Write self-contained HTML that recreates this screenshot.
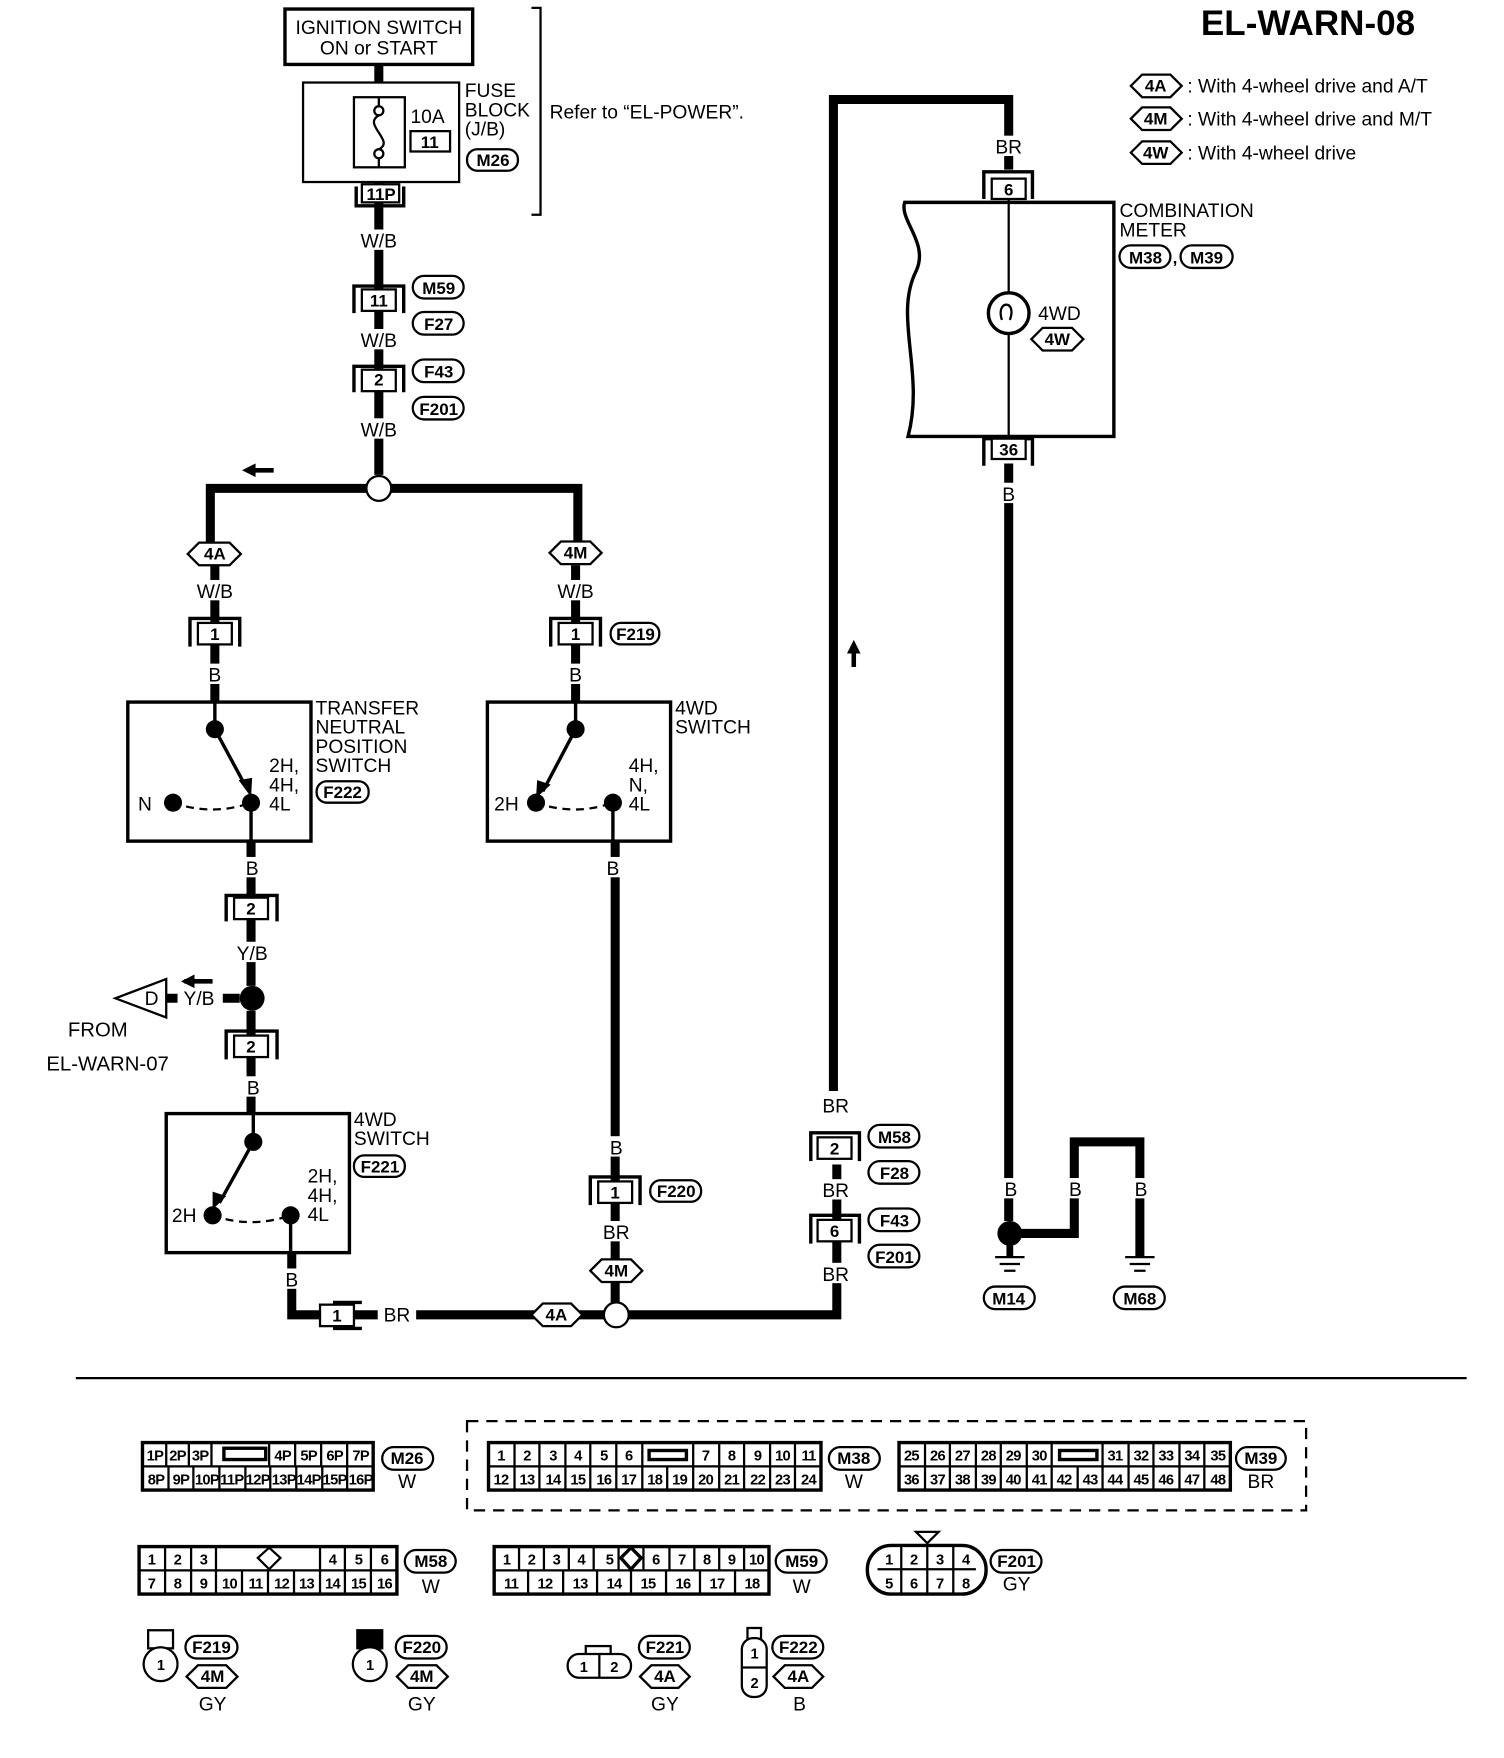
<!DOCTYPE html>
<html><head><meta charset="utf-8"><style>
html,body{margin:0;padding:0;background:#fff;}
svg{display:block;}
text{font-family:"Liberation Sans",Arial,sans-serif;fill:#000;}
.l{font-size:17px;}
.s{font-size:15px;font-weight:bold;}
.c{font-size:13px;letter-spacing:-0.6px;font-weight:bold;}
</style></head><body>
<svg width="1504" height="1758" viewBox="0 0 1330 1555" preserveAspectRatio="none" xmlns="http://www.w3.org/2000/svg">
<rect x="0" y="0" width="1330" height="1555" fill="#fff"/>
<g stroke="#000" fill="none" stroke-linecap="butt">
<path d="M335 57 V73" stroke-width="8"/>
<path d="M335 161 V420" stroke-width="8"/>
<path d="M186 490 V432 H324 M346 432 H511 V480" stroke-width="8"/>
<path d="M190 500 V620" stroke-width="8"/>
<path d="M509 500 V620" stroke-width="8"/>
<path d="M222 744 V872" stroke-width="8"/>
<path d="M222 894 V985" stroke-width="8"/>
<path d="M258 1108 V1163 H534 M556 1163 H740 V1030" stroke-width="8"/>
<path d="M544 744 V1152" stroke-width="8"/>
<path d="M737 965 V88 H892 V150" stroke-width="8"/>
<path d="M892 410 V1080" stroke-width="8"/>
<path d="M900 1091 H950 V1010 H1008 V1112" stroke-width="8"/>
<path d="M893 1100 V1112" stroke-width="6"/>
<path d="M147 883 H212" stroke-width="8"/>
</g>
<g fill="#fff">
<rect x="315" y="203" width="40" height="18"/><rect x="315" y="291" width="40" height="18"/><rect x="315" y="370" width="40" height="18"/>
<rect x="170" y="513" width="40" height="18"/><rect x="489" y="513" width="40" height="18"/>
<rect x="180" y="587" width="20" height="18"/><rect x="499" y="587" width="20" height="18"/>
<rect x="212" y="758" width="22" height="18"/><rect x="534" y="758" width="22" height="18"/>
<rect x="205" y="833" width="36" height="18"/><rect x="212" y="952" width="22" height="18"/>
<rect x="157" y="873" width="40" height="20"/>
<rect x="248" y="1122" width="22" height="18"/><rect x="334" y="1153" width="34" height="20"/>
<rect x="534" y="1005" width="22" height="18"/><rect x="527" y="1080" width="36" height="18"/>
<rect x="722" y="968" width="34" height="18"/><rect x="722" y="1043" width="34" height="18"/><rect x="722" y="1117" width="34" height="18"/>
<rect x="876" y="120" width="34" height="18"/><rect x="880" y="427" width="24" height="18"/>
<rect x="880" y="1042" width="24" height="18"/><rect x="938" y="1042" width="24" height="18"/><rect x="996" y="1042" width="24" height="18"/>
</g>
<g stroke="#000" fill="none">
<rect x="252" y="8" width="166" height="49" stroke-width="3"/>
<rect x="268" y="73" width="138" height="88" stroke-width="2"/>
<rect x="313" y="86" width="45" height="62" stroke-width="2"/>
<path d="M335 86 V95 M335 139 V148" stroke-width="2"/>
<circle cx="335" cy="98" r="4" stroke-width="2"/><circle cx="335" cy="136" r="4" stroke-width="2"/>
<path d="M335 102 C320 110 350 125 335 132" stroke-width="2"/>
<rect x="363" y="116" width="35" height="18" stroke-width="2"/>
<rect x="413" y="132" width="45" height="19" rx="9" stroke-width="2"/>
<path d="M315 165 V182 H357 V165" stroke-width="3"/><rect x="320" y="163" width="33" height="16" fill="#fff" stroke-width="2"/>
<path d="M470 7 H478 V190 H470" stroke-width="2"/>
<path d="M313 277 V253 H357 V277" stroke-width="3"/><rect x="320" y="256" width="30" height="19" fill="#fff" stroke-width="2"/>
<path d="M313 347 V324 H357 V347" stroke-width="3"/><rect x="320" y="327" width="30" height="19" fill="#fff" stroke-width="2"/>
<path d="M168 572 V547 H212 V572" stroke-width="3"/><rect x="175" y="551" width="30" height="19" fill="#fff" stroke-width="2"/>
<path d="M487 572 V547 H531 V572" stroke-width="3"/><rect x="494" y="551" width="30" height="19" fill="#fff" stroke-width="2"/>
<path d="M200 815 V792 H245 V815" stroke-width="3"/><rect x="207" y="794" width="30" height="19" fill="#fff" stroke-width="2"/>
<path d="M200 937 V912 H245 V937" stroke-width="3"/><rect x="207" y="916" width="30" height="19" fill="#fff" stroke-width="2"/>
<path d="M522 1066 V1041 H566 V1066" stroke-width="3"/><rect x="529" y="1045" width="30" height="19" fill="#fff" stroke-width="2"/>
<path d="M717 1027 V1002 H760 V1027" stroke-width="3"/><rect x="723" y="1006" width="30" height="19" fill="#fff" stroke-width="2"/>
<path d="M717 1100 V1075 H760 V1100" stroke-width="3"/><rect x="723" y="1079" width="30" height="19" fill="#fff" stroke-width="2"/>
<path d="M870 176 V152 H913 V176" stroke-width="3"/><rect x="877" y="158" width="30" height="18" fill="#fff" stroke-width="2"/>
<path d="M870 412 V388 H913 V412" stroke-width="3"/><rect x="877" y="388" width="30" height="18" fill="#fff" stroke-width="2"/>
<path d="M320 1152 H296 V1175 H320" stroke-width="3"/><rect x="283" y="1154" width="30" height="19" fill="#fff" stroke-width="2"/>
<rect x="365" y="244" width="45" height="20" rx="10" stroke-width="2"/>
<rect x="365" y="276" width="45" height="20" rx="10" stroke-width="2"/>
<rect x="365" y="318" width="45" height="20" rx="10" stroke-width="2"/>
<rect x="365" y="351" width="45" height="20" rx="10" stroke-width="2"/>
<rect x="540" y="551" width="43" height="19" rx="9" stroke-width="2"/>
<rect x="280" y="691" width="46" height="19" rx="9" stroke-width="2"/>
<rect x="313" y="1022" width="45" height="19" rx="9" stroke-width="2"/>
<rect x="575" y="1044" width="45" height="19" rx="9" stroke-width="2"/>
<rect x="768" y="995" width="45" height="20" rx="10" stroke-width="2"/>
<rect x="768" y="1027" width="45" height="20" rx="10" stroke-width="2"/>
<rect x="768" y="1069" width="45" height="20" rx="10" stroke-width="2"/>
<rect x="768" y="1101" width="45" height="20" rx="10" stroke-width="2"/>
<rect x="990" y="217" width="45" height="20" rx="10" stroke-width="2"/>
<rect x="1044" y="217" width="46" height="20" rx="10" stroke-width="2"/>
<rect x="870" y="1138" width="45" height="20" rx="10" stroke-width="2"/>
<rect x="985" y="1138" width="45" height="20" rx="10" stroke-width="2"/>
<polygon points="166,490 176,480 203,480 213,490 203,500 176,500" fill="#fff" stroke-width="2"/>
<polygon points="486,489 496,479 522,479 532,489 522,499 496,499" fill="#fff" stroke-width="2"/>
<polygon points="522,1124 532,1114 558,1114 568,1124 558,1134 532,1134" fill="#fff" stroke-width="2"/>
<polygon points="470,1163 480,1153 505,1153 515,1163 505,1173 480,1173" fill="#fff" stroke-width="2"/>
<polygon points="912,300 922,290 948,290 958,300 948,310 922,310" fill="#fff" stroke-width="2"/>
<polygon points="1000,76 1010,66 1035,66 1045,76 1035,86 1010,86" stroke-width="2"/>
<polygon points="1000,105 1010,95 1035,95 1045,105 1035,115 1010,115" stroke-width="2"/>
<polygon points="1000,135 1010,125 1035,125 1045,135 1035,145 1010,145" stroke-width="2"/>
<circle cx="335" cy="432" r="11" fill="#fff" stroke-width="2"/>
<circle cx="545" cy="1163" r="11" fill="#fff" stroke-width="2"/>
<rect x="113" y="621" width="162" height="123" stroke-width="3"/>
<rect x="431" y="621" width="162" height="123" stroke-width="3"/>
<rect x="147" y="985" width="162" height="123" stroke-width="3"/>
<path d="M190 621 V645 M222 710 V744" stroke-width="3"/>
<path d="M509 621 V645 M542 710 V744" stroke-width="3"/>
<path d="M224 985 V1010 M257 1075 V1108" stroke-width="3"/>
<path d="M190 645 L218 697" stroke-width="3"/>
<path d="M509 645 L480 700" stroke-width="3"/>
<path d="M224 1010 L194 1064" stroke-width="3"/>
<path d="M153 710 Q188 722 222 710" stroke-width="2" stroke-dasharray="7,5"/>
<path d="M474 710 Q508 722 542 710" stroke-width="2" stroke-dasharray="7,5"/>
<path d="M188 1075 Q222 1087 257 1075" stroke-width="2" stroke-dasharray="7,5"/>
<path d="M800 179 H985 V386 H803 C818 330 790 280 810 240 C822 215 795 195 800 179 Z" stroke-width="3"/>
<path d="M892 176 V388" stroke-width="2"/>
<circle cx="892" cy="277" r="18" fill="#fff" stroke-width="3"/>
<path d="M886 283 C880 265 900 265 893 283" stroke-width="2"/>
<path d="M880 1112 H906 M884 1118 H902 M888 1124 H898" stroke-width="2"/>
<path d="M995 1112 H1021 M999 1118 H1017 M1003 1124 H1013" stroke-width="2"/>
<polygon points="102,883 147,866 147,900" fill="#fff" stroke-width="2"/>
<path d="M67 1219 H1297" stroke-width="2"/>
<rect x="413" y="1257" width="742" height="79" stroke-width="2" stroke-dasharray="10,7"/>
</g>
<g fill="#000">
<circle cx="190" cy="645" r="8"/><circle cx="222" cy="710" r="8"/><circle cx="153" cy="710" r="8"/>
<circle cx="509" cy="645" r="8"/><circle cx="474" cy="710" r="8"/><circle cx="542" cy="710" r="8"/>
<circle cx="224" cy="1010" r="8"/><circle cx="188" cy="1075" r="8"/><circle cx="257" cy="1075" r="8"/>
<circle cx="223" cy="883" r="11"/><circle cx="893" cy="1091" r="11"/>
<polygon points="222,705 211,690 223,688"/><polygon points="474,706 475,690 487,694"/><polygon points="188,1070 188,1054 200,1058"/>
<path d="M218 414 H242 V418 H218 Z"/><polygon points="214,416 226,410 226,422"/>
<path d="M163 866 H188 V870 H163 Z"/><polygon points="160,868 172,862 172,874"/>
<path d="M753 573 V590 H757 V573 Z"/><polygon points="755,566 749,578 761,578"/>
</g>
<g class="l">
<text x="335" y="30" text-anchor="middle">IGNITION SWITCH</text>
<text x="335" y="48" text-anchor="middle">ON or START</text>
<text x="411" y="86">FUSE</text><text x="411" y="103">BLOCK</text><text x="411" y="120">(J/B)</text>
<text x="363" y="109">10A</text>
<text x="486" y="105">Refer to “EL-POWER”.</text>
<text x="1062" y="31" style="font-size:31px;font-weight:bold">EL-WARN-08</text>
<text x="1050" y="82">: With 4-wheel drive and A/T</text>
<text x="1050" y="111">: With 4-wheel drive and M/T</text>
<text x="1050" y="141">: With 4-wheel drive</text>
<text x="279" y="632">TRANSFER</text><text x="279" y="649">NEUTRAL</text><text x="279" y="666">POSITION</text><text x="279" y="683">SWITCH</text>
<text x="238" y="683">2H,</text><text x="238" y="700">4H,</text><text x="238" y="717">4L</text><text x="122" y="717">N</text>
<text x="597" y="632">4WD</text><text x="597" y="649">SWITCH</text>
<text x="556" y="683">4H,</text><text x="556" y="700">N,</text><text x="556" y="717">4L</text><text x="437" y="717">2H</text>
<text x="313" y="996">4WD</text><text x="313" y="1013">SWITCH</text>
<text x="272" y="1046">2H,</text><text x="272" y="1063">4H,</text><text x="272" y="1080">4L</text><text x="152" y="1081">2H</text>
<text x="990" y="192">COMBINATION</text><text x="990" y="209">METER</text>
<text x="918" y="283">4WD</text>
<text x="60" y="917" style="font-size:18px">FROM</text><text x="41" y="947" style="font-size:18px">EL-WARN-07</text>
</g>
<g class="l" text-anchor="middle">
<text x="335" y="219">W/B</text><text x="335" y="307">W/B</text><text x="335" y="386">W/B</text>
<text x="190" y="529">W/B</text><text x="509" y="529">W/B</text>
<text x="190" y="603">B</text><text x="509" y="603">B</text>
<text x="223" y="774">B</text><text x="542" y="774">B</text>
<text x="223" y="849">Y/B</text><text x="176" y="889">Y/B</text><text x="224" y="968">B</text>
<text x="258" y="1138">B</text><text x="351" y="1169">BR</text>
<text x="545" y="1021">B</text><text x="545" y="1096">BR</text>
<text x="739" y="984">BR</text><text x="739" y="1059">BR</text><text x="739" y="1133">BR</text>
<text x="892" y="136">BR</text><text x="892" y="443">B</text>
<text x="894" y="1058">B</text><text x="951" y="1058">B</text><text x="1009" y="1058">B</text>
<text x="134" y="889">D</text>
</g>
<g class="s" text-anchor="middle">
<text x="380" y="131">11</text><text x="436" y="147">M26</text><text x="337" y="177">11P</text>
<text x="335" y="271">11</text><text x="335" y="341">2</text>
<text x="388" y="260">M59</text><text x="388" y="292">F27</text><text x="388" y="334">F43</text><text x="388" y="367">F201</text>
<text x="190" y="566">1</text><text x="509" y="566">1</text><text x="562" y="566">F219</text>
<text x="303" y="706">F222</text><text x="222" y="809">2</text><text x="222" y="931">2</text>
<text x="336" y="1037">F221</text><text x="544" y="1060">1</text><text x="598" y="1059">F220</text>
<text x="738" y="1021">2</text><text x="738" y="1094">6</text>
<text x="791" y="1011">M58</text><text x="791" y="1043">F28</text><text x="791" y="1085">F43</text><text x="791" y="1117">F201</text>
<text x="892" y="173">6</text><text x="892" y="403">36</text>
<text x="1013" y="233">M38</text><text x="1039" y="233">,</text><text x="1067" y="233">M39</text>
<text x="892" y="1154">M14</text><text x="1008" y="1154">M68</text>
<text x="298" y="1169">1</text>
<text x="190" y="495">4A</text><text x="509" y="494">4M</text><text x="545" y="1129">4M</text><text x="492" y="1168">4A</text>
<text x="935" y="305">4W</text>
<text x="1022" y="81">4A</text><text x="1022" y="110">4M</text><text x="1022" y="140">4W</text>
</g>
<g stroke="#000" fill="none" stroke-width="2">
<rect x="126" y="1276" width="204" height="42" stroke-width="3"/>
<path d="M126 1297 H330 M147 1276 V1297 M167 1276 V1297 M187 1276 V1297 M238 1276 V1297 M261 1276 V1297 M284 1276 V1297 M307 1276 V1297 M149 1297 V1318 M171 1297 V1318 M194 1297 V1318 M217 1297 V1318 M239 1297 V1318 M262 1297 V1318 M285 1297 V1318 M307 1297 V1318"/>
<rect x="198" y="1281" width="37" height="10" stroke-width="3"/>
<rect x="432" y="1276" width="294" height="42" stroke-width="3"/>
<path d="M432 1297 H726 M455 1276 V1318 M477 1276 V1318 M500 1276 V1318 M522 1276 V1318 M545 1276 V1318 M568 1276 V1318 M613 1276 V1318 M636 1276 V1318 M658 1276 V1318 M681 1276 V1318 M703 1276 V1318 M590 1297 V1318"/>
<rect x="574" y="1283" width="33" height="8" stroke-width="3"/>
<rect x="795" y="1276" width="293" height="42" stroke-width="3"/>
<path d="M795 1297 H1088 M818 1276 V1318 M840 1276 V1318 M863 1276 V1318 M885 1276 V1318 M908 1276 V1318 M930 1276 V1318 M975 1276 V1318 M998 1276 V1318 M1020 1276 V1318 M1043 1276 V1318 M1065 1276 V1318 M953 1297 V1318"/>
<rect x="937" y="1283" width="33" height="8" stroke-width="3"/>
<rect x="123" y="1368" width="228" height="42" stroke-width="3"/>
<path d="M123 1389 H351 M146 1368 V1410 M169 1368 V1410 M191 1368 V1410 M283 1368 V1410 M305 1368 V1410 M328 1368 V1410 M214 1389 V1410 M237 1389 V1410 M260 1389 V1410"/>
<polygon points="238,1369 248,1378 238,1388 228,1378" stroke-width="2"/>
<rect x="437" y="1368" width="243" height="42" stroke-width="3"/>
<path d="M437 1389 H680 M459 1368 V1389 M481 1368 V1389 M503 1368 V1389 M525 1368 V1389 M547 1368 V1389 M569 1368 V1389 M592 1368 V1389 M614 1368 V1389 M636 1368 V1389 M658 1368 V1389 M467 1389 V1410 M498 1389 V1410 M528 1389 V1410 M558 1389 V1410 M589 1389 V1410 M619 1389 V1410 M650 1389 V1410"/>
<polygon points="558,1369 567,1378 558,1388 549,1378" fill="#fff" stroke-width="3"/>
<rect x="767" y="1367" width="105" height="43" rx="21" stroke-width="3"/>
<path d="M776 1388 H863 M797 1367 V1410 M820 1367 V1410 M843 1367 V1410"/>
<path d="M810 1355 H830 L820 1365 Z" stroke-width="2"/>
<rect x="338" y="1280" width="45" height="20" rx="10"/><rect x="733" y="1280" width="45" height="20" rx="10"/><rect x="1093" y="1280" width="44" height="20" rx="10"/>
<rect x="358" y="1371" width="45" height="20" rx="10"/><rect x="686" y="1371" width="45" height="20" rx="10"/><rect x="876" y="1371" width="45" height="20" rx="10"/>
<rect x="164" y="1447" width="46" height="20" rx="10"/><rect x="350" y="1447" width="45" height="20" rx="10"/>
<rect x="565" y="1447" width="45" height="20" rx="10"/><rect x="683" y="1447" width="45" height="20" rx="10"/>
<polygon points="165,1483 175,1473 200,1473 210,1483 200,1493 175,1493"/>
<polygon points="351,1483 361,1473 386,1473 396,1483 386,1493 361,1493"/>
<polygon points="566,1483 576,1473 600,1473 610,1483 600,1493 576,1493"/>
<polygon points="684,1483 694,1473 718,1473 728,1483 718,1493 694,1493"/>
<rect x="131" y="1442" width="22" height="16"/><circle cx="142" cy="1472" r="15" fill="#fff"/>
<rect x="316" y="1442" width="22" height="16" fill="#000"/><circle cx="327" cy="1472" r="15" fill="#fff"/>
<rect x="518" y="1456" width="22" height="10"/><rect x="502" y="1463" width="56" height="21" rx="10" fill="#fff"/><path d="M530 1463 V1484"/>
<rect x="661" y="1440" width="12" height="10"/><rect x="656" y="1449" width="22" height="52" rx="10" fill="#fff"/><path d="M656 1475 H678"/>
</g>
<g class="c" text-anchor="middle">
<text x="137" y="1292">1P</text><text x="157" y="1292">2P</text><text x="177" y="1292">3P</text><text x="250" y="1292">4P</text><text x="273" y="1292">5P</text><text x="296" y="1292">6P</text><text x="319" y="1292">7P</text>
<text x="138" y="1313">8P</text><text x="160" y="1313">9P</text><text x="183" y="1313">10P</text><text x="205" y="1313">11P</text><text x="228" y="1313">12P</text><text x="251" y="1313">13P</text><text x="273" y="1313">14P</text><text x="296" y="1313">15P</text><text x="319" y="1313">16P</text>
<text x="443" y="1292">1</text><text x="466" y="1292">2</text><text x="489" y="1292">3</text><text x="511" y="1292">4</text><text x="534" y="1292">5</text><text x="556" y="1292">6</text><text x="624" y="1292">7</text><text x="647" y="1292">8</text><text x="670" y="1292">9</text><text x="692" y="1292">10</text><text x="715" y="1292">11</text>
<text x="443" y="1313">12</text><text x="466" y="1313">13</text><text x="489" y="1313">14</text><text x="511" y="1313">15</text><text x="534" y="1313">16</text><text x="556" y="1313">17</text><text x="579" y="1313">18</text><text x="601" y="1313">19</text><text x="624" y="1313">20</text><text x="647" y="1313">21</text><text x="670" y="1313">22</text><text x="692" y="1313">23</text><text x="715" y="1313">24</text>
<text x="806" y="1292">25</text><text x="829" y="1292">26</text><text x="851" y="1292">27</text><text x="874" y="1292">28</text><text x="896" y="1292">29</text><text x="919" y="1292">30</text><text x="986" y="1292">31</text><text x="1009" y="1292">32</text><text x="1031" y="1292">33</text><text x="1054" y="1292">34</text><text x="1077" y="1292">35</text>
<text x="806" y="1313">36</text><text x="829" y="1313">37</text><text x="851" y="1313">38</text><text x="874" y="1313">39</text><text x="896" y="1313">40</text><text x="919" y="1313">41</text><text x="941" y="1313">42</text><text x="964" y="1313">43</text><text x="986" y="1313">44</text><text x="1009" y="1313">45</text><text x="1031" y="1313">46</text><text x="1054" y="1313">47</text><text x="1077" y="1313">48</text>
<text x="134" y="1384">1</text><text x="157" y="1384">2</text><text x="180" y="1384">3</text><text x="294" y="1384">4</text><text x="317" y="1384">5</text><text x="340" y="1384">6</text>
<text x="134" y="1405">7</text><text x="157" y="1405">8</text><text x="180" y="1405">9</text><text x="203" y="1405">10</text><text x="226" y="1405">11</text><text x="249" y="1405">12</text><text x="271" y="1405">13</text><text x="294" y="1405">14</text><text x="317" y="1405">15</text><text x="340" y="1405">16</text>
<text x="448" y="1384">1</text><text x="470" y="1384">2</text><text x="492" y="1384">3</text><text x="514" y="1384">4</text><text x="539" y="1384">5</text><text x="580" y="1384">6</text><text x="603" y="1384">7</text><text x="625" y="1384">8</text><text x="647" y="1384">9</text><text x="669" y="1384">10</text>
<text x="452" y="1405">11</text><text x="482" y="1405">12</text><text x="513" y="1405">13</text><text x="543" y="1405">14</text><text x="573" y="1405">15</text><text x="604" y="1405">16</text><text x="634" y="1405">17</text><text x="665" y="1405">18</text>
<text x="786" y="1384">1</text><text x="808" y="1384">2</text><text x="831" y="1384">3</text><text x="854" y="1384">4</text>
<text x="786" y="1405">5</text><text x="808" y="1405">6</text><text x="831" y="1405">7</text><text x="854" y="1405">8</text>
<text x="142" y="1477">1</text><text x="327" y="1477">1</text><text x="516" y="1479">1</text><text x="543" y="1479">2</text><text x="667" y="1467">1</text><text x="667" y="1493">2</text>
</g>
<g class="s" text-anchor="middle">
<text x="360" y="1295">M26</text><text x="755" y="1295">M38</text><text x="1115" y="1295">M39</text>
<text x="381" y="1386">M58</text><text x="709" y="1386">M59</text><text x="899" y="1386">F201</text>
<text x="187" y="1462">F219</text><text x="373" y="1462">F220</text><text x="588" y="1462">F221</text><text x="706" y="1462">F222</text>
<text x="188" y="1488">4M</text><text x="373" y="1488">4M</text><text x="588" y="1488">4A</text><text x="706" y="1488">4A</text>
</g>
<g class="l" text-anchor="middle">
<text x="360" y="1316">W</text><text x="755" y="1316">W</text><text x="1115" y="1316">BR</text>
<text x="381" y="1409">W</text><text x="709" y="1409">W</text><text x="899" y="1407">GY</text>
<text x="188" y="1513">GY</text><text x="373" y="1513">GY</text><text x="588" y="1513">GY</text><text x="707" y="1513">B</text>
</g>
</svg>
</body></html>
